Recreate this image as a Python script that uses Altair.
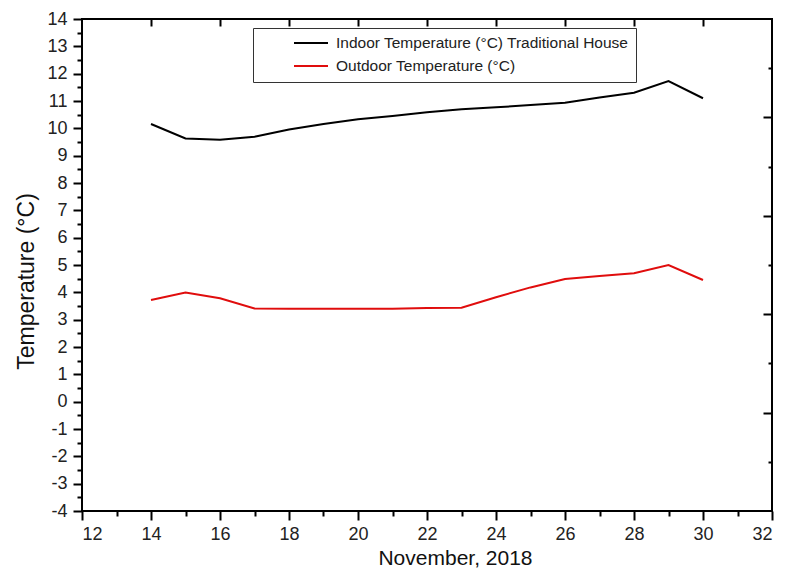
import altair as alt
import pandas as pd

days = list(range(14, 31))
indoor = [10.16, 9.63, 9.58, 9.69, 9.96, 10.16, 10.33, 10.45, 10.59, 10.70,
          10.77, 10.85, 10.94, 11.13, 11.30, 11.73, 11.10]
outdoor = [3.72, 3.99, 3.78, 3.41, 3.40, 3.40, 3.40, 3.40, 3.43, 3.44,
           3.82, 4.18, 4.49, 4.60, 4.70, 5.00, 4.45]
series = ["Indoor Temperature (°C) Traditional House", "Outdoor Temperature (°C)"]
colors = ["#000000", "#e00d0d"]

x_ticks = list(range(12, 33))
x_top_ticks = list(range(14, 31, 2))
y_ticks = [v / 2 for v in range(-8, 29)]
right_major = [-0.4, 3.2, 6.8, 10.4]
right_minor = [-2.2, 1.4, 5.0, 8.6, 12.2]

rows = []
for d, a, b in zip(days, indoor, outdoor):
    rows.append({"day": d, "temp": a, "series": series[0]})
    rows.append({"day": d, "temp": b, "series": series[1]})
df = pd.DataFrame(rows)

FONT = "Liberation Sans"
xscale = alt.Scale(domain=[12, 32], nice=False, zero=False)
yscale = alt.Scale(domain=[-4, 14], nice=False, zero=False)

bottom_axis = alt.Axis(
    values=x_ticks, orient="bottom", domain=False, grid=False,
    tickSize={"condition": {"test": "datum.value % 2 === 0", "value": 9}, "value": 5},
    labelExpr="datum.value % 2 === 0 ? '' + datum.value : ''",
    labelPadding=5, title="November, 2018", titleX=373, titleY=53,
    titleBaseline="alphabetic", titleAlign="center", titleFontSize=21,
)
left_axis = alt.Axis(
    values=y_ticks, orient="left", domain=False, grid=False,
    tickSize={"condition": {"test": "datum.value % 1 === 0", "value": 9}, "value": 5},
    labelExpr="datum.value % 1 === 0 ? '' + datum.value : ''",
    labelPadding=6, title="Temperature (°C)", titleAngle=270, titleX=-56, titleY=262,
    titleAlign="center", titleBaseline="middle", titleFontSize=23,
)

base = alt.Chart(df)

lines = base.mark_line(strokeWidth=2).encode(
    x=alt.X("day:Q", scale=xscale, axis=bottom_axis),
    y=alt.Y("temp:Q", scale=yscale, axis=left_axis),
    color=alt.Color(
        "series:N",
        scale=alt.Scale(domain=series, range=colors),
        legend=alt.Legend(
            title=None, orient="none", legendX=171, legendY=9,
            strokeColor="#333333", fillColor="white", padding=7,
            symbolType="stroke", symbolSize=1156, symbolStrokeWidth=2,
            symbolOffset=33, labelOffset=7, labelFontSize=15.5, labelFont=FONT,
            labelColor="#222222", labelLimit=600, clipHeight=16, rowPadding=6,
            labelExpr="datum.label == 'Outdoor Temperature (°C)' ? datum.label : datum.label + '\u00a0\u00a0\u00a0\u00a0\u00a0\u00a0\u00a0\u00a0\u00a0\u00a0'",
        ),
    ),
)

top = base.mark_line(opacity=0).encode(
    x=alt.X("day:Q", scale=xscale, axis=alt.Axis(
        values=x_top_ticks, orient="top", offset=-7, tickSize=7, labels=False,
        domain=False, grid=False, title=None)),
    y=alt.Y("temp:Q", scale=yscale, axis=None),
    detail="series:N",
)

right_a = base.mark_line(opacity=0).encode(
    x=alt.X("day:Q", scale=xscale, axis=None),
    y=alt.Y("temp:Q", scale=yscale, axis=alt.Axis(
        values=right_major, orient="right", offset=-9, tickSize=9, labels=False,
        domain=False, grid=False, title=None)),
    detail="series:N",
)

right_b = base.mark_line(opacity=0).encode(
    x=alt.X("day:Q", scale=xscale, axis=None),
    y=alt.Y("temp:Q", scale=yscale, axis=alt.Axis(
        values=right_minor, orient="right", offset=-4, tickSize=4, labels=False,
        domain=False, grid=False, title=None)),
    detail="series:N",
)

chart = alt.layer(lines, top, right_a, right_b).resolve_axis(
    x="independent", y="independent"
).properties(
    width=690, height=492,
    background="white",
    autosize=alt.AutoSizeParams(type="none"),
    padding={"left": 74, "top": 11, "right": 5, "bottom": 58},
).configure_view(
    stroke="#000000", strokeWidth=2
).configure_axis(
    tickColor="#000000", tickWidth=2, labelFont=FONT, labelFontSize=18,
    labelColor="#222222", titleFont=FONT,
    titleFontWeight="normal", titleColor="#111111",
)

chart.save("out.html", embed_options={"renderer": "svg", "actions": False})
